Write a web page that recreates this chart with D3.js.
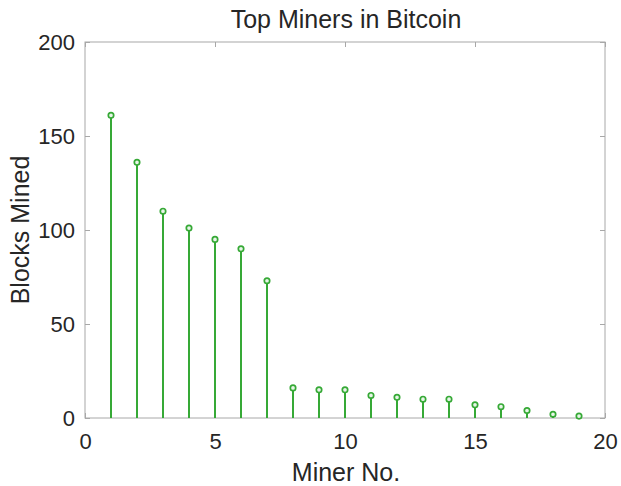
<!DOCTYPE html>
<html><head><meta charset="utf-8">
<script src="https://cdn.jsdelivr.net/npm/d3@7"></script>
<style>body{margin:0;background:#fff}text{font-family:"Liberation Sans",Arial,sans-serif;fill:#262626}</style>
</head><body><svg id="c" width="621" height="486"></svg>
<script>
const miners = [1,2,3,4,5,6,7,8,9,10,11,12,13,14,15,16,17,18,19];
const blocks = [161,136,110,101,95,90,73,16,15,15,12,11,10,10,7,6,4,2,1];
const xTicks = [0,5,10,15,20];
const yTicks = [0,50,100,150,200];
const svg = d3.select("#c");
const L=85,R=605,T=42,B=418;
const x = d3.scaleLinear().domain([0,20]).range([L,R]);
const y = d3.scaleLinear().domain([0,200]).range([B,T]);
const ax = "#a8a8a8";
svg.append("rect").attr("x",L).attr("y",T).attr("width",R-L).attr("height",B-T).attr("fill","none").attr("stroke",ax).attr("stroke-width",1);
function styleAxis(sel){sel.select(".domain").remove();sel.selectAll("line").attr("stroke",ax);sel.selectAll("text").attr("font-size",22).attr("fill","#262626");}
svg.append("g").attr("transform",`translate(0,${B})`).call(d3.axisBottom(x).tickValues(xTicks).tickSize(-5).tickPadding(15)).call(styleAxis);
svg.append("g").attr("transform",`translate(0,${T})`).call(d3.axisTop(x).tickValues(xTicks).tickSize(-5).tickFormat("")).call(styleAxis);
svg.append("g").attr("transform",`translate(${L},0)`).call(d3.axisLeft(y).tickValues(yTicks).tickSize(-5).tickPadding(10)).call(styleAxis);
svg.append("g").attr("transform",`translate(${R},0)`).call(d3.axisRight(y).tickValues(yTicks).tickSize(-5).tickFormat("")).call(styleAxis);
const green="#36a936";
const data = miners.map((m,i)=>({m,v:blocks[i]}));
svg.append("g").selectAll("line").data(data).join("line")
 .attr("x1",d=>x(d.m)).attr("x2",d=>x(d.m)).attr("y1",y(0)).attr("y2",d=>y(d.v))
 .attr("stroke",green).attr("stroke-width",2);
svg.append("g").selectAll("circle").data(data).join("circle")
 .attr("cx",d=>x(d.m)).attr("cy",d=>y(d.v)).attr("r",2.7)
 .attr("fill","#e8f5e8").attr("stroke",green).attr("stroke-width",1.7);
svg.append("text").attr("x",346).attr("y",28).attr("text-anchor","middle").attr("font-size",25).text("Top Miners in Bitcoin");
svg.append("text").attr("x",346).attr("y",481).attr("text-anchor","middle").attr("font-size",25).text("Miner No.");
svg.append("text").attr("transform",`translate(29,${(T+B)/2}) rotate(-90)`).attr("text-anchor","middle").attr("font-size",25).text("Blocks Mined");
</script></body></html>
